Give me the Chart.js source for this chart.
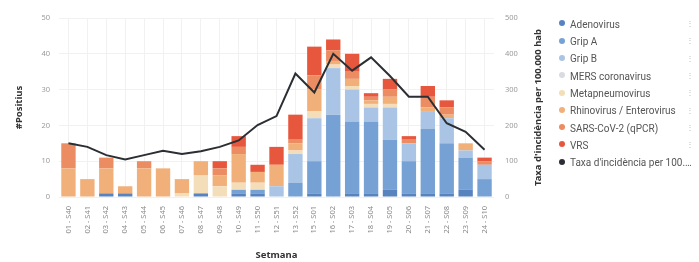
<!DOCTYPE html>
<html><head><meta charset="utf-8">
<script src="https://cdn.jsdelivr.net/npm/chart.js@4"></script>
<style>
html,body{margin:0;padding:0;background:#fff;}
#wrap{position:relative;width:699px;height:262px;overflow:hidden;font-family:Roboto,"Noto Sans",sans-serif;}
#c{position:absolute;left:0;top:0;}
#legend{position:absolute;left:559px;top:15px;width:140px;}
.li{position:absolute;left:0;height:17px;width:140px;white-space:nowrap;font-size:10px;color:#555;line-height:17px;}
.dot{display:inline-block;width:6px;height:6px;border-radius:50%;margin-right:5px;vertical-align:middle;position:relative;top:-1px;}
.txt{display:inline-block;max-width:124px;overflow:hidden;text-overflow:ellipsis;vertical-align:middle;}
.ic{position:absolute;left:127px;top:0;font-size:8px;color:#bbb;}
</style></head><body>
<div id="wrap"><canvas id="c" width="699" height="262"></canvas><div id="legend"></div></div>
<script>
const weeks = ['01 - S40','02 - S41','03 - S42','04 - S43','05 - S44','06 - S45','07 - S46','08 - S47','09 - S48','10 - S49','11 - S50','12 - S51','13 - S52','15 - S01','16 - S02','17 - S03','18 - S04','19 - S05','20 - S06','21 - S07','22 - S08','23 - S09','24 - S10'];
const adenovirus      = [0,0,1,1,0,0,0,1,0,1,1,0,0,1,0,1,1,2,1,1,1,2,0];
const gripA           = [0,0,0,0,0,0,0,0,0,1,1,0,4,9,23,20,20,14,9,18,14,9,5];
const gripB           = [0,0,0,0,0,0,0,0,0,0,0,3,8,12,13,9,4,9,5,5,7,2,4];
const mers            = [0,0,0,0,0,0,0,0,0,0,0,0,0,0,0,0,0,0,0,0,0,0,0];
const metapneumovirus = [0,0,0,0,0,0,1,5,3,2,2,0,1,2,1,1,1,1,0,0,0,0,0];
const rhinovirus      = [8,5,7,2,8,8,4,4,3,8,3,6,2,6,1,2,1,2,0,1,1,2,0];
const sarsCov2        = [7,0,3,0,2,0,0,0,2,2,0,0,1,4,3,2,1,2,1,3,2,0,1];
const vrs             = [0,0,0,0,0,0,0,0,2,3,2,5,7,8,3,5,1,3,1,3,2,0,1];
const taxaIncidencia  = [150,140,117,105,117,129,120,128,140,158,201,226,345,292,400,353,390,338,280,280,206,182,132];
const leftTicks = [0,10,20,30,40,50];
const rightTicks = [0,100,200,300,400,500];

const barSeries = [
  ['Adenovirus', adenovirus, '#5783bf'],
  ['Grip A', gripA, '#76a1d4'],
  ['Grip B', gripB, '#a9c4e5'],
  ['MERS coronavirus', mers, '#d8dce2'],
  ['Metapneumovirus', metapneumovirus, '#f4ddb9'],
  ['Rhinovirus / Enterovirus', rhinovirus, '#f1b07a'],
  ['SARS-CoV-2 (qPCR)', sarsCov2, '#ec8c62'],
  ['VRS', vrs, '#e6573e']
];
const lineLabel = "Taxa d'incidència per 100.000 hab";
const lineColor = '#2b2f33';

const datasets = [{
  type:'line', label: lineLabel, data: taxaIncidencia, yAxisID:'y1',
  borderColor: lineColor, backgroundColor: lineColor, borderWidth: 2,
  pointRadius: 0, tension: 0, order: 0
}].concat(barSeries.map(([l,d,c]) => ({
  type:'bar', label:l, data:d, backgroundColor:c, yAxisID:'y',
  barPercentage:0.76, categoryPercentage:1.0, borderWidth:0, order:1
})));

const tickFont = {family:'"Noto Sans", sans-serif', size:7.5};
const titleFont = {family:'"Noto Sans", sans-serif', size:9.5, weight:'bold'};

// right-axis title, written bottom-to-top like the reference
const rightTitle = {
  id:'rightTitle',
  afterDraw(chart){
    const s = chart.scales.y1, ctx = chart.ctx;
    ctx.save();
    ctx.font = 'bold 9.5px "Noto Sans", sans-serif';
    ctx.fillStyle = '#333';
    ctx.textAlign = 'center';
    ctx.textBaseline = 'middle';
    ctx.translate(s.right - 8, (s.top + s.bottom) / 2);
    ctx.rotate(-Math.PI / 2);
    ctx.fillText(lineLabel, 0, 0);
    ctx.restore();
  }
};

new Chart(document.getElementById('c'), {
  data: {labels: weeks, datasets},
  plugins:[rightTitle],
  options: {
    responsive:false, animation:false, devicePixelRatio:1,
    layout:{padding:{top:18, right:153, left:0, bottom:0}},
    plugins:{legend:{display:false}, tooltip:{enabled:false}},
    scales:{
      x:{
        stacked:true, offset:true,
        grid:{offset:false, color:'#f1f1f1', drawTicks:false},
        border:{display:false},
        ticks:{font:tickFont, color:'#8a8a8a', minRotation:90, maxRotation:90, padding:9, autoSkip:false},
        title:{display:true, text:'Setmana', font:titleFont, color:'#333', padding:{top:0,bottom:1}},
        afterFit(s){ s.height = 65; }
      },
      y:{
        stacked:true, position:'left', min:0, max:50,
        afterBuildTicks(s){ s.ticks = leftTicks.map(v=>({value:v})); },
        grid:{color:'#f1f1f1', drawTicks:false},
        border:{display:false},
        ticks:{font:tickFont, color:'#9a9a9a', padding:9},
        title:{display:true, text:'#Positius', font:titleFont, color:'#333', padding:{top:14,bottom:0}},
        afterFit(s){ s.width = 59; }
      },
      y1:{
        position:'right', min:0, max:500,
        afterBuildTicks(s){ s.ticks = rightTicks.map(v=>({value:v})); },
        grid:{display:false, drawTicks:false},
        border:{display:false},
        ticks:{font:tickFont, color:'#9a9a9a', padding:11},
        title:{display:false, text:lineLabel},
        afterFit(s){ s.width = 52; }
      }
    }
  }
});

const legendItems = barSeries.map(s => [s[0], s[2]]).concat([[lineLabel, lineColor]]);
const lg = document.getElementById('legend');
legendItems.forEach(([l,c],i) => {
  const d = document.createElement('div');
  d.className = 'li';
  d.style.top = (i*17.3) + 'px';
  d.innerHTML = '<span class="dot" style="background:'+c+'"></span><span class="txt"></span>' + (i < 8 ? '<span class="ic">⋮</span>' : '');
  d.querySelector('.txt').textContent = l;
  lg.appendChild(d);
});
</script>
</body></html>
